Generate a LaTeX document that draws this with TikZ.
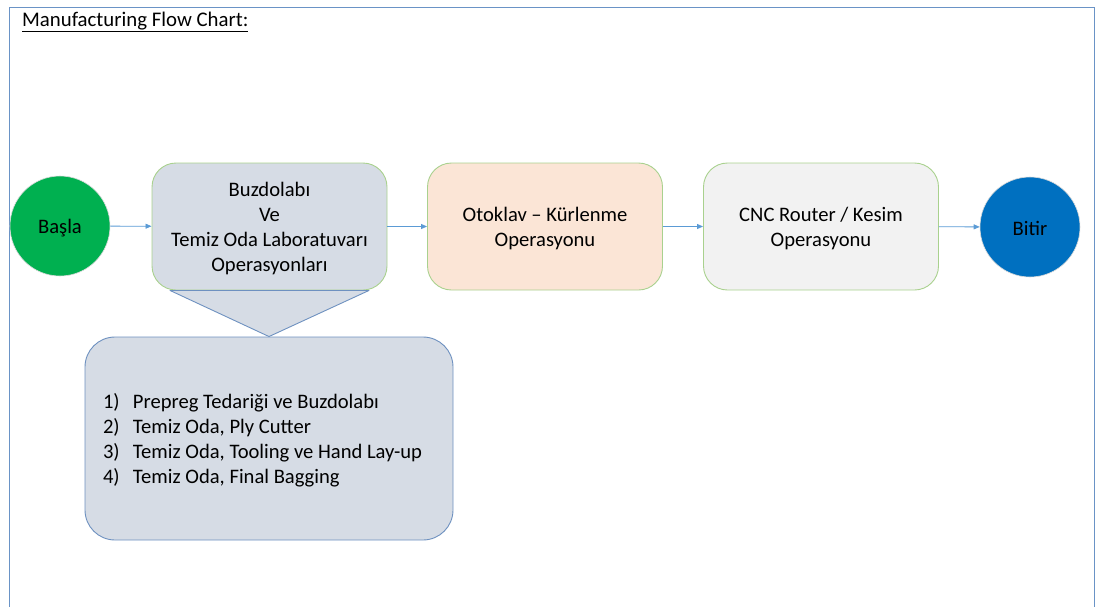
\documentclass[tikz,border=0pt]{standalone}
\usepackage{fontspec}
\setmainfont{Carlito}
\usetikzlibrary{arrows.meta}
\definecolor{framec}{HTML}{6A93C6}
\definecolor{arrowc}{HTML}{5B9BD5}
\definecolor{greenb}{HTML}{A9D18E}
\definecolor{bluegray}{HTML}{D6DCE5}
\definecolor{peach}{HTML}{FBE5D6}
\definecolor{lgray}{HTML}{F2F2F2}
\definecolor{callb}{HTML}{6E91C0}
\definecolor{startc}{HTML}{00B050}
\definecolor{endc}{HTML}{0070C0}
\tikzset{
  proc/.style={draw=greenb, line width=0.9pt, rounded corners=24pt, minimum width=235pt, minimum height=127pt, inner sep=0pt},
  term/.style={circle, minimum size=100pt, inner sep=0pt, draw=white!85!black, line width=0.6pt},
  txt/.style={align=center, inner sep=0pt, yshift=-1.6pt, font=\fontsize{20.6}{25}\selectfont},
  flow/.style={draw=arrowc, line width=0.8pt, -{Triangle[length=6pt,width=5pt]}},
}
\newcommand{\listline}[2]{\makebox[332pt][l]{\makebox[30pt][l]{#1}#2}}
\begin{document}
\begin{tikzpicture}[x=1pt,y=-1pt]
\useasboundingbox (0,0) rectangle (1096,606);
\draw[framec, line width=1pt] (9,610) -- (9,7) -- (1094,7) -- (1094,610);
\node[anchor=base west, inner sep=0pt, font=\fontsize{20.8}{22}\selectfont] (title) at (22,26) {\underline{Manufacturing Flow Chart:}};
\node[term, fill=startc, label={[txt]center:Başla}] (start) at (60,226) {};
\node[proc, fill=bluegray, label={[txt]center:{Buzdolabı\\Ve\\Temiz Oda Laboratuvarı\\Operasyonları}}] (b1) at (269.5,226.5) {};
\node[proc, fill=peach, label={[txt]center:{Otoklav -- Kürlenme\\Operasyonu}}] (b2) at (545,226.5) {};
\node[proc, fill=lgray, label={[txt]center:{CNC Router / Kesim\\Operasyonu}}] (b3) at (821,226.5) {};
\node[term, fill=endc, label={[txt]center:Bitir}] (finish) at (1030,227) {};
\node[draw=callb, fill=bluegray, line width=0.9pt, rounded corners=30pt, minimum width=368pt, minimum height=203pt, inner sep=0pt,
  label={[txt, align=left]center:{%
\listline{1)}{Prepreg Tedariği ve Buzdolabı}\\
\listline{2)}{Temiz Oda, Ply Cutter}\\
\listline{3)}{Temiz Oda, Tooling ve Hand Lay-up}\\
\listline{4)}{Temiz Oda, Final Bagging}}}] (list) at (269,438.5) {};
\path (b1.south) ++(-99.5,0) coordinate (wl) ++(199,0) coordinate (wr);
\draw[draw=callb, fill=bluegray, line width=0.9pt, line join=round] (wl) -- (wr) -- (list.north) -- cycle;
\draw[flow] (start) -- (b1);
\draw[flow] (b1) -- (b2);
\draw[flow] (b2) -- (b3);
\draw[flow] (b3) -- (finish);
\end{tikzpicture}
\end{document}
